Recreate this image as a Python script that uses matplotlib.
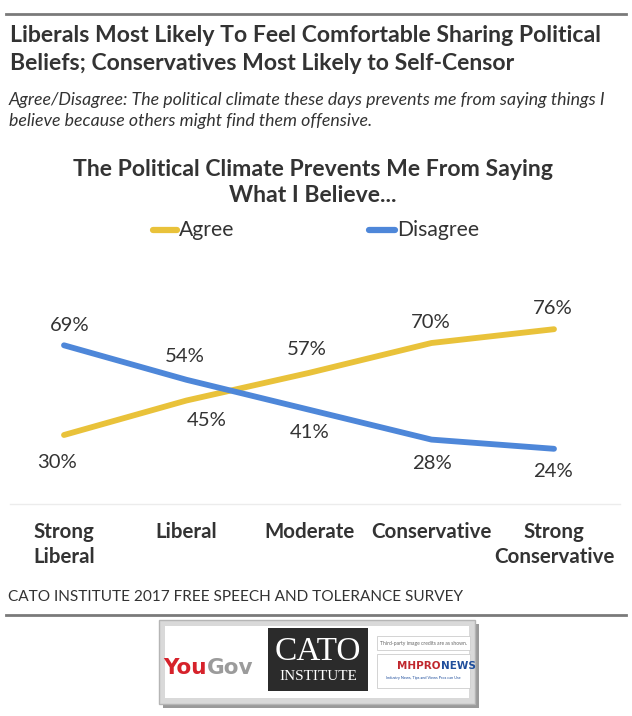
import matplotlib
matplotlib.use("Agg")
import matplotlib.pyplot as plt
from matplotlib.patches import Rectangle
from matplotlib.lines import Line2D

plt.rcParams['font.family'] = ['Lato', 'DejaVu Sans']

# ---- data ----
categories = ["Strong\nLiberal", "Liberal", "Moderate", "Conservative", "Strong\nConservative"]
agree = [30, 45, 57, 70, 76]
disagree = [69, 54, 41, 28, 24]
agree_labels = ["30%", "45%", "57%", "70%", "76%"]
disagree_labels = ["69%", "54%", "41%", "28%", "24%"]

# ---- style / layout ----
W, H = 632, 716
YELLOW = "#E9C23A"
BLUE = "#4E87D9"
TXT = "#333333"
agree_offsets = [(-7, -27), (20, -20), (-2, 23), (-1, 21), (-1, 21)]
disagree_offsets = [(6, 20), (-2, 23), (1, -23), (0, -24), (-1, -23)]

fig = plt.figure(figsize=(W / 100, H / 100), dpi=100)
fig.patch.set_facecolor("white")


def fx(x):
    return x / W


def fy(y):
    return 1 - y / H


def ftext(x, y, s, **kw):
    kw.setdefault("color", TXT)
    return fig.text(fx(x), fy(y), s, **kw)


def hline(y, x0, x1, color, lw):
    fig.add_artist(Line2D([fx(x0), fx(x1)], [fy(y), fy(y)], color=color, lw=lw,
                          transform=fig.transFigure))


# top rule
hline(14, 6, 626, "#7a7a7a", 2.0)

# headline
ftext(10, 35, "Liberals Most Likely To Feel Comfortable Sharing Political",
      fontsize=16.6, fontweight="bold", va="center", ha="left")
ftext(10, 63, "Beliefs; Conservatives Most Likely to Self-Censor",
      fontsize=16.6, fontweight="bold", va="center", ha="left")
ftext(9, 100, "Agree/Disagree: The political climate these days prevents me from saying things I",
      fontsize=12.8, style="italic", va="center", ha="left")
ftext(9, 121, "believe because others might find them offensive.",
      fontsize=12.8, style="italic", va="center", ha="left")

# chart title
ftext(313, 169, "The Political Climate Prevents Me From Saying",
      fontsize=16.6, fontweight="bold", va="center", ha="center")
ftext(313, 195, "What I Believe...",
      fontsize=16.6, fontweight="bold", va="center", ha="center")

# legend
fig.add_artist(Line2D([fx(153), fx(177)], [fy(230), fy(230)], color=YELLOW, lw=4.5,
                      solid_capstyle="round", transform=fig.transFigure))
ftext(179, 230, "Agree", fontsize=15.2, va="center", ha="left")
fig.add_artist(Line2D([fx(369), fx(395)], [fy(230), fy(230)], color=BLUE, lw=4.5,
                      solid_capstyle="round", transform=fig.transFigure))
ftext(397, 230, "Disagree", fontsize=15.2, va="center", ha="left")

# axes: x 0 -> px 64, 4 -> px 554 ; y 0 -> px 504, 100 -> px 274
L, R = 10, 620
ax = fig.add_axes([fx(L), fy(504), (R - L) / W, (504 - 274) / H])
step = (554 - 64) / 4
ax.set_xlim(-(64 - L) / step, 4 + (R - 554) / step)
ax.set_ylim(0, 100)
xs = list(range(len(categories)))
ax.plot(xs, agree, color=YELLOW, lw=4.2, solid_capstyle="round", solid_joinstyle="round")
ax.plot(xs, disagree, color=BLUE, lw=4.2, solid_capstyle="round", solid_joinstyle="round")
for x, v, s, off in zip(xs, agree, agree_labels, agree_offsets):
    ax.annotate(s, (x, v), xytext=off, textcoords="offset pixels", ha="center", va="center",
                fontsize=14.6, color=TXT)
for x, v, s, off in zip(xs, disagree, disagree_labels, disagree_offsets):
    ax.annotate(s, (x, v), xytext=off, textcoords="offset pixels", ha="center", va="center",
                fontsize=14.6, color=TXT)
for sp in ["top", "left", "right"]:
    ax.spines[sp].set_visible(False)
ax.spines["bottom"].set_color("#ececec")
ax.spines["bottom"].set_linewidth(1.0)
ax.set_yticks([])
ax.set_xticks(xs)
ax.set_xticklabels(categories, fontsize=14.8, fontweight="bold", color=TXT, linespacing=1.3)
ax.tick_params(axis="x", length=0, pad=13)
ax.set_facecolor("none")

# footer
ftext(8, 597, "CATO INSTITUTE 2017 FREE SPEECH AND TOLERANCE SURVEY",
      fontsize=11.1, va="center", ha="left")
hline(615, 6, 626, "#7a7a7a", 2.0)

# logo strip
fig.add_artist(Rectangle((fx(163), fy(708)), fx(316), 84 / H, transform=fig.transFigure,
                         facecolor="#9a9a9a", edgecolor="none"))
fig.add_artist(Rectangle((fx(159), fy(704)), fx(316), 84 / H, transform=fig.transFigure,
                         facecolor="#d9d9d9", edgecolor="#b5b5b5", lw=1))
fig.add_artist(Rectangle((fx(165), fy(698)), fx(304), 72 / H, transform=fig.transFigure,
                         facecolor="white", edgecolor="none"))

renderer = fig.canvas.get_renderer()


def two_tone(x, y, a, b, ca, cb, **kw):
    t1 = ftext(x, y, a, color=ca, va="center", ha="left", **kw)
    ext = t1.get_window_extent(renderer=renderer)
    x2 = ext.x1  # pixels from left
    ftext(x2, y, b, color=cb, va="center", ha="left", **kw)


two_tone(163, 668, "You", "Gov", "#d6222b", "#9b9b9b", fontsize=15.5, fontweight="bold",
         family=["DejaVu Sans"])
fig.add_artist(Rectangle((fx(268), fy(691)), fx(100), 63 / H, transform=fig.transFigure,
                         facecolor="#2b2b2b", edgecolor="none"))
ftext(318, 652, "CATO", fontsize=24, color="white", va="center", ha="center",
      family=["Liberation Serif"])
ftext(318, 677, "INSTITUTE", fontsize=11, color="white", va="center", ha="center",
      family=["Liberation Serif"])
fig.add_artist(Rectangle((fx(377), fy(650)), fx(93), 14 / H, transform=fig.transFigure,
                         facecolor="white", edgecolor="#cccccc", lw=0.6))
ftext(423, 643, "Third-party image credits are as shown.", fontsize=3.6, color="#666666",
      va="center", ha="center")
fig.add_artist(Rectangle((fx(377), fy(688)), fx(93), 34 / H, transform=fig.transFigure,
                         facecolor="white", edgecolor="#cccccc", lw=0.6))
two_tone(397, 666, "MHPRO", "NEWS", "#c0272d", "#1f4e9c", fontsize=7.5, fontweight="bold",
         family=["DejaVu Sans"])
ftext(423, 678, "Industry News, Tips and Views Pros can Use", fontsize=2.8, color="#1f4e9c",
      va="center", ha="center")

fig.savefig("out.png", dpi=100, facecolor="white")
